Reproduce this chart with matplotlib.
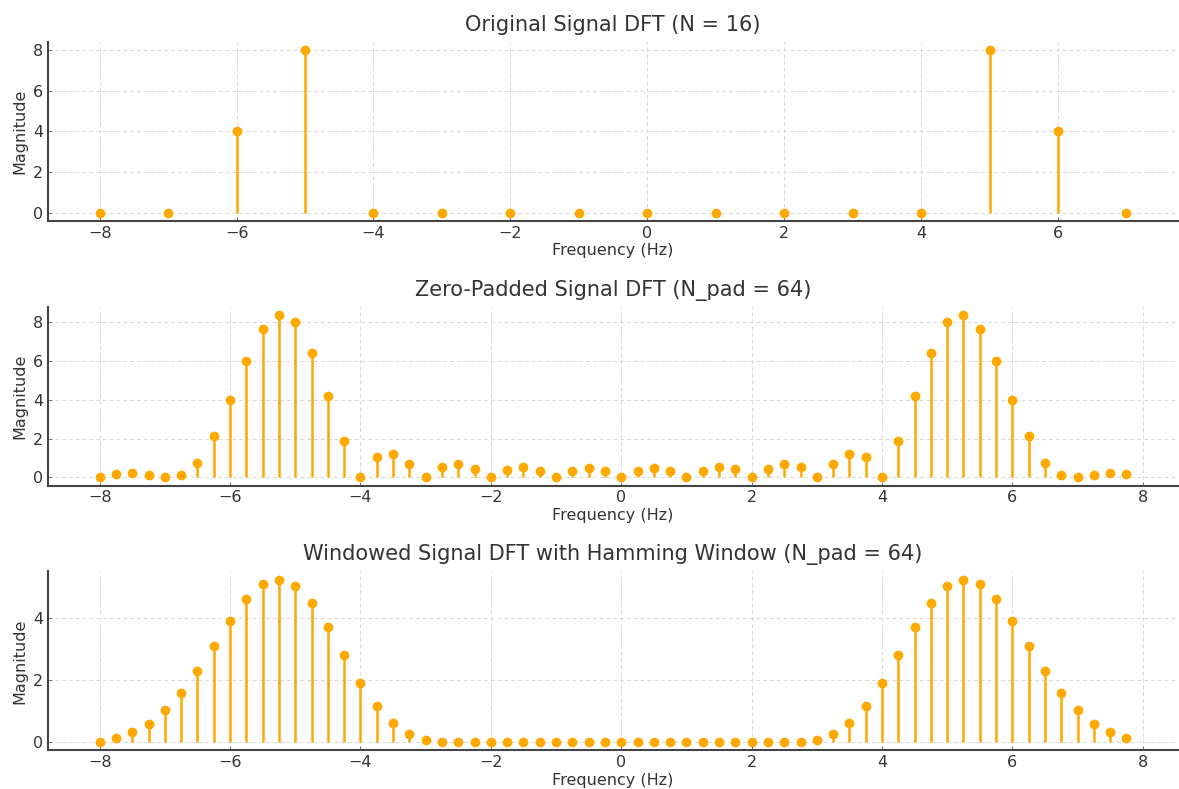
import numpy as np
import matplotlib.pyplot as plt

# --- DATOS ---

# DFT original, N = 16
freq_orig = [-8, -7, -6, -5, -4, -3, -2, -1, 0, 1, 2, 3, 4, 5, 6, 7]
mag_orig = [0, 0, 4, 8, 0, 0, 0, 0, 0, 0, 0, 0, 0, 8, 4, 0]

# DFT con ceros, N_pad = 64
freq_pad = [-8.0, -7.75, -7.5, -7.25, -7.0, -6.75, -6.5, -6.25,
            -6.0, -5.75, -5.5, -5.25, -5.0, -4.75, -4.5, -4.25,
            -4.0, -3.75, -3.5, -3.25, -3.0, -2.75, -2.5, -2.25,
            -2.0, -1.75, -1.5, -1.25, -1.0, -0.75, -0.5, -0.25,
            0.0, 0.25, 0.5, 0.75, 1.0, 1.25, 1.5, 1.75,
            2.0, 2.25, 2.5, 2.75, 3.0, 3.25, 3.5, 3.75,
            4.0, 4.25, 4.5, 4.75, 5.0, 5.25, 5.5, 5.75,
            6.0, 6.25, 6.5, 6.75, 7.0, 7.25, 7.5, 7.75]
mag_pad = [0.0, 0.19, 0.24, 0.14, 0.0, 0.12, 0.76, 2.12,
           4.0, 6.0, 7.65, 8.4, 8.0, 6.45, 4.22, 1.88,
           0.0, 1.05, 1.2, 0.7, 0.0, 0.55, 0.69, 0.45,
           0.0, 0.4, 0.53, 0.33, 0.0, 0.31, 0.46, 0.33,
           0.0, 0.31, 0.46, 0.33, 0.0, 0.33, 0.53, 0.41,
           0.0, 0.45, 0.69, 0.55, 0.0, 0.7, 1.2, 1.05,
           0.0, 1.88, 4.22, 6.45, 8.0, 8.4, 7.65, 6.0,
           4.0, 2.12, 0.76, 0.12, 0.0, 0.14, 0.24, 0.19]

# DFT con ventana de Hamming, N_pad = 64
mag_ham = [0.0, 0.15, 0.33, 0.6, 1.03, 1.59, 2.3, 3.09,
           3.89, 4.6, 5.07, 5.22, 5.02, 4.46, 3.69, 2.8,
           1.91, 1.17, 0.62, 0.27, 0.07, 0.0, 0.02, 0.02,
           0.02, 0.02, 0.02, 0.0, 0.0, 0.02, 0.02, 0.0,
           0.0, 0.01, 0.02, 0.02, 0.0, 0.0, 0.02, 0.02,
           0.02, 0.02, 0.02, 0.0, 0.07, 0.27, 0.62, 1.17,
           1.91, 2.8, 3.69, 4.46, 5.02, 5.22, 5.07, 4.6,
           3.89, 3.09, 2.3, 1.59, 1.03, 0.6, 0.33, 0.15]

titulos = ['Original Signal DFT (N = 16)',
           'Zero-Padded Signal DFT (N_pad = 64)',
           'Windowed Signal DFT with Hamming Window (N_pad = 64)']

# --- GRAFICA ---

naranja = '#FFA800'
texto = '#333333'

fig, axs = plt.subplots(3, 1, figsize=(11.79, 7.89), dpi=100)
fig.subplots_adjust(left=0.041, right=0.999, top=0.947, bottom=0.049, hspace=0.48)

series = [(freq_orig, mag_orig), (freq_pad, mag_pad), (freq_pad, mag_ham)]

for ax, (f, m), tit in zip(axs, series, titulos):
    marcas, lineas, base = ax.stem(f, m, linefmt='-', markerfmt='o', basefmt=' ')
    plt.setp(lineas, color=naranja, linewidth=1.8)
    plt.setp(marcas, color=naranja, markersize=6)
    ax.set_title(tit, fontsize=15, color=texto, pad=8)
    ax.set_xlabel('Frequency (Hz)', fontsize=11.5, color=texto, labelpad=2)
    ax.set_ylabel('Magnitude', fontsize=11.5, color=texto)
    ax.grid(True, linestyle=(0, (4, 3)), color='#d8d8d8', linewidth=0.7)
    ax.set_axisbelow(True)
    for lado in ['top', 'right']:
        ax.spines[lado].set_visible(False)
    for lado in ['left', 'bottom']:
        ax.spines[lado].set_color('#444444')
        ax.spines[lado].set_linewidth(1.5)
    ax.tick_params(labelsize=11.5, labelcolor=texto, color='#777777',
                   direction='in', length=3)

axs[0].set_yticks([0, 2, 4, 6, 8])
axs[1].set_yticks([0, 2, 4, 6, 8])
axs[2].set_yticks([0, 2, 4])

plt.savefig('out.png')
